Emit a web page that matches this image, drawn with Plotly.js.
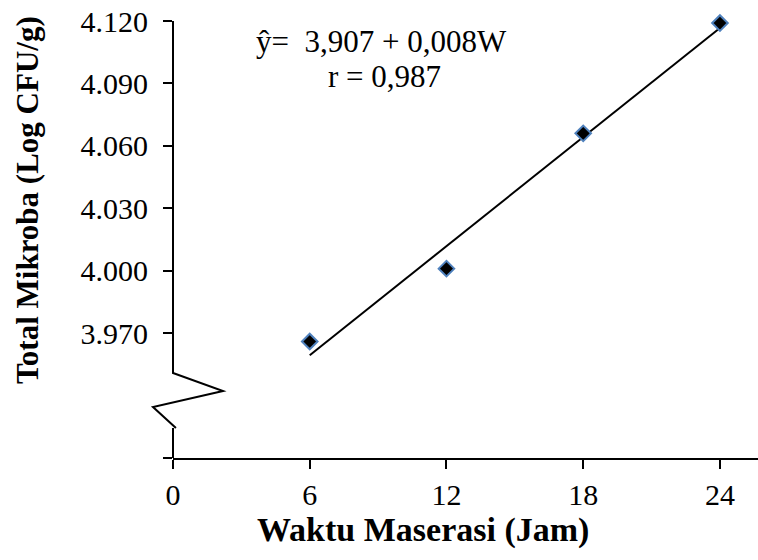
<!DOCTYPE html>
<html>
<head>
<meta charset="utf-8">
<script src="https://cdn.plot.ly/plotly-3.0.1.min.js"></script>
<style>
  html, body { margin: 0; padding: 0; background: #ffffff; }
  #chart { width: 758px; height: 560px; }
</style>
</head>
<body>
<div id="chart"></div>
<script>
// ---- data ----
const hours = [6, 12, 18, 24];                 // Waktu Maserasi (Jam)
const logCfu = [3.966, 4.001, 4.066, 4.119];   // Total Mikroba (Log CFU/g)
const xTickVals = [0, 6, 12, 18, 24];
const xTickText = ['0', '6', '12', '18', '24'];
const yTickVals = [3.91, 3.97, 4.00, 4.03, 4.06, 4.09, 4.12];
const yTickText = ['', '3.970', '4.000', '4.030', '4.060', '4.090', '4.120'];
const equationText = 'ŷ=\u00a0\u00a03,907 + 0,008W';
const rText = 'r = 0,987';
const xTitle = 'Waktu Maserasi (Jam)';
const yTitle = 'Total Mikroba (Log CFU/g)';

// least-squares trend line from the data
const n = hours.length;
const mx = hours.reduce((a, b) => a + b, 0) / n;
const my = logCfu.reduce((a, b) => a + b, 0) / n;
let sxy = 0, sxx = 0;
for (let i = 0; i < n; i++) { sxy += (hours[i] - mx) * (logCfu[i] - my); sxx += (hours[i] - mx) ** 2; }
const slope = sxy / sxx;
const intercept = my - slope * mx;
const trendX = [hours[0], hours[n - 1]];
const trendY = trendX.map(x => intercept + slope * x);

const FONT = '"Liberation Serif", "Times New Roman", Times, serif';

const traces = [
  {
    x: trendX, y: trendY, type: 'scatter', mode: 'lines',
    line: { color: '#000000', width: 2 }, hoverinfo: 'skip', cliponaxis: false
  },
  {
    x: hours, y: logCfu, type: 'scatter', mode: 'markers',
    marker: { symbol: 'diamond', size: 12, color: '#000000', line: { color: '#4f81bd', width: 2 } },
    cliponaxis: false
  }
];

const layout = {
  width: 758, height: 560,
  margin: { l: 173, r: 0, t: 21, b: 102 },
  paper_bgcolor: '#ffffff', plot_bgcolor: '#ffffff',
  showlegend: false,
  font: { family: FONT, color: '#000000', size: 30 },
  xaxis: {
    range: [0, 25.67], tickvals: xTickVals, ticktext: xTickText,
    showline: true, linecolor: '#000000', linewidth: 2,
    ticks: 'outside', ticklen: 9, tickwidth: 2, tickcolor: '#000000',
    showgrid: false, zeroline: false, fixedrange: true,
    tickfont: { family: FONT, size: 30, color: '#000000' }
  },
  yaxis: {
    range: [3.91, 4.12], tickvals: yTickVals, ticktext: yTickText,
    showline: false,
    ticks: 'outside', ticklen: 9, tickwidth: 2, tickcolor: '#000000',
    ticklabelstandoff: 9,
    showgrid: false, zeroline: false, fixedrange: true,
    tickfont: { family: FONT, size: 30, color: '#000000' }
  },
  shapes: [
    { type: 'path', xref: 'paper', yref: 'paper',
      path: 'M 0 1 L 0 0.1945 L 0.0855 0.1533 L -0.0342 0.1167 L 0.005 0.0686',
      line: { color: '#000000', width: 2 } },
    { type: 'line', xref: 'paper', yref: 'paper', x0: 0, x1: 0, y0: 0.0686, y1: 0,
      line: { color: '#000000', width: 2 } }
  ],
  annotations: [
    { text: equationText, xref: 'paper', yref: 'paper', x: (255 - 173) / 585, y: (458 - 42) / 437,
      xanchor: 'left', yanchor: 'middle', showarrow: false, borderpad: 0, font: { family: FONT, size: 31 } },
    { text: rText, xref: 'paper', yref: 'paper', x: (327 - 173) / 585, y: (458 - 76) / 437,
      xanchor: 'left', yanchor: 'middle', showarrow: false, borderpad: 0, font: { family: FONT, size: 31 } },
    { text: '<b>' + xTitle + '</b>', xref: 'paper', yref: 'paper', x: (423 - 173) / 585, y: (458 - 530) / 437,
      xanchor: 'center', yanchor: 'middle', showarrow: false, font: { family: FONT, size: 34 } },
    { text: '<b>' + yTitle + '</b>', xref: 'paper', yref: 'paper', x: (27 - 173) / 585, y: (458 - 200) / 437,
      xanchor: 'center', yanchor: 'middle', textangle: -90, showarrow: false, font: { family: FONT, size: 31 } }
  ]
};

Plotly.newPlot('chart', traces, layout, { displayModeBar: false, staticPlot: true });
</script>
</body>
</html>
